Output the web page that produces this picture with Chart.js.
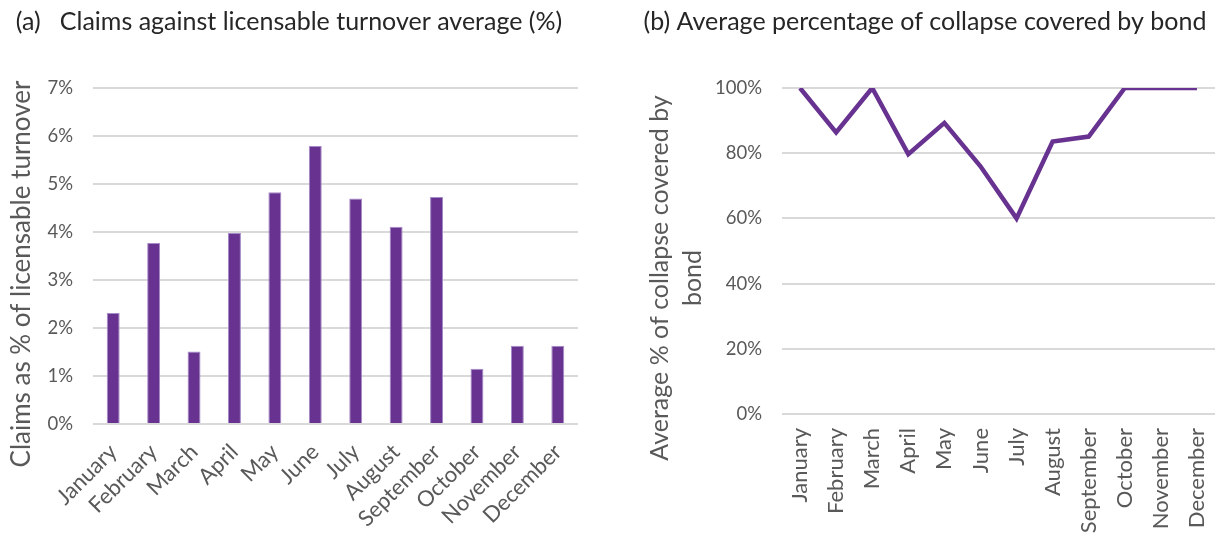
<!DOCTYPE html>
<html>
<head>
<meta charset="utf-8">
<script src="https://cdn.jsdelivr.net/npm/chart.js@4.4.1/dist/chart.umd.min.js"></script>
<style>
  html, body { margin: 0; padding: 0; background: #ffffff; }
  #wrap { position: relative; width: 1215px; height: 533px; overflow: hidden; }
  #claimsChart { position: absolute; left: 0; top: 0; }
  #bondChart { position: absolute; left: 635px; top: 0; }
</style>
</head>
<body>
<div id="wrap">
  <canvas id="claimsChart" width="581" height="533"></canvas>
  <canvas id="bondChart" width="580" height="533"></canvas>
</div>
<script>
// Months shared by both panels
const months = ['January', 'February', 'March', 'April', 'May', 'June',
                'July', 'August', 'September', 'October', 'November', 'December'];

// (a) claims as % of licensable turnover, by month
const claimsPct = [2.31, 3.77, 1.51, 3.98, 4.83, 5.79, 4.70, 4.11, 4.73, 1.15, 1.63, 1.63];

// (b) average % of collapse covered by bond, by month
const bondCoverPct = [100, 86.4, 100, 79.7, 89.3, 76, 60, 83.6, 85.1, 100, 100, 100];

// Axis ranges and titles
const claimsAxis = { min: 0, max: 7, step: 1 };
const bondAxis = { min: 0, max: 100, step: 20 };
const titleA = '(a)   Claims against licensable turnover average (%)';
const titleB = '(b) Average percentage of collapse covered by bond';
const yTitleA = ['Claims as % of licensable turnover'];
const yTitleB = ['Average % of collapse covered by', 'bond'];

const FONT = 'Lato, "Open Sans", sans-serif';
const PURPLE = '#673290';
const GRID = '#d9d9d9';
const TICK = '#595959';
const TICK_SIZE = 18.5;
const MONTH_SIZE = 22;

// Rotated side title drawn beside the value axis
const sideTitle = {
  id: 'sideTitle',
  afterDraw(chart, args, o) {
    if (!o || !o.lines) return;
    const ctx = chart.ctx;
    ctx.save();
    ctx.font = o.size + 'px ' + FONT;
    ctx.fillStyle = o.color;
    ctx.textAlign = 'center';
    ctx.textBaseline = 'middle';
    o.lines.forEach((line, i) => {
      ctx.save();
      ctx.translate(o.x + i * o.gap, o.y);
      ctx.rotate(-Math.PI / 2);
      ctx.fillText(line, 0, 0);
      ctx.restore();
    });
    ctx.restore();
  }
};
Chart.register(sideTitle);

function titleOpts(text) {
  return {
    display: true,
    text: text,
    color: '#262626',
    font: { family: FONT, size: 25, weight: 'normal' },
    padding: { top: 7, bottom: 51 }
  };
}

// Category axis keeps its height fixed and lets the labels overhang the sides
function fixCategoryAxis(height) {
  return function (s) {
    s.height = height;
    s.paddingLeft = 0;
    s.paddingRight = 0;
  };
}

new Chart(document.getElementById('claimsChart'), {
  type: 'bar',
  data: {
    labels: months,
    datasets: [{
      label: 'Claims as % of licensable turnover',
      data: claimsPct,
      backgroundColor: PURPLE,
      borderColor: '#a58bc8',
      borderWidth: 1,
      barPercentage: 0.32,
      categoryPercentage: 1.0
    }]
  },
  options: {
    responsive: false,
    animation: false,
    layout: { padding: { left: 0, right: 3, bottom: 0 } },
    plugins: {
      legend: { display: false },
      tooltip: { enabled: false },
      title: titleOpts(titleA),
      sideTitle: { lines: yTitleA, x: 22, y: 274, gap: 0, size: 26, color: TICK }
    },
    scales: {
      x: {
        grid: { display: false, drawTicks: false },
        border: { display: false },
        ticks: {
          color: TICK, font: { family: FONT, size: MONTH_SIZE },
          minRotation: 45, maxRotation: 45, autoSkip: false, padding: 15
        },
        afterFit: fixCategoryAxis(109)
      },
      y: {
        min: claimsAxis.min, max: claimsAxis.max,
        grid: { color: GRID, lineWidth: 2, drawTicks: false },
        border: { display: false },
        ticks: {
          stepSize: claimsAxis.step, color: TICK, padding: 20,
          font: { family: FONT, size: TICK_SIZE },
          callback: v => v + '%'
        },
        afterFit(s) { s.width = 93; }
      }
    }
  }
});

new Chart(document.getElementById('bondChart'), {
  type: 'line',
  data: {
    labels: months,
    datasets: [{
      label: 'Average % of collapse covered by bond',
      data: bondCoverPct,
      borderColor: PURPLE,
      borderWidth: 4.5,
      pointRadius: 0,
      tension: 0,
      fill: false
    }]
  },
  options: {
    responsive: false,
    animation: false,
    layout: { padding: { left: 0, right: 0, bottom: 0 } },
    plugins: {
      legend: { display: false },
      tooltip: { enabled: false },
      title: titleOpts(titleB),
      sideTitle: { lines: yTitleB, x: 25, y: 278, gap: 33, size: 25, color: TICK }
    },
    scales: {
      x: {
        offset: true,
        grid: { display: false, drawTicks: false },
        border: { display: false },
        ticks: {
          color: TICK, font: { family: FONT, size: MONTH_SIZE },
          minRotation: 90, maxRotation: 90, autoSkip: false, padding: 14
        },
        afterFit: fixCategoryAxis(119)
      },
      y: {
        min: bondAxis.min, max: bondAxis.max,
        grid: { color: GRID, lineWidth: 2, drawTicks: false },
        border: { display: false },
        ticks: {
          stepSize: bondAxis.step, color: TICK, padding: 20,
          font: { family: FONT, size: TICK_SIZE },
          callback: v => v + '%'
        },
        afterFit(s) { s.width = 147; }
      }
    }
  }
});
</script>
</body>
</html>
